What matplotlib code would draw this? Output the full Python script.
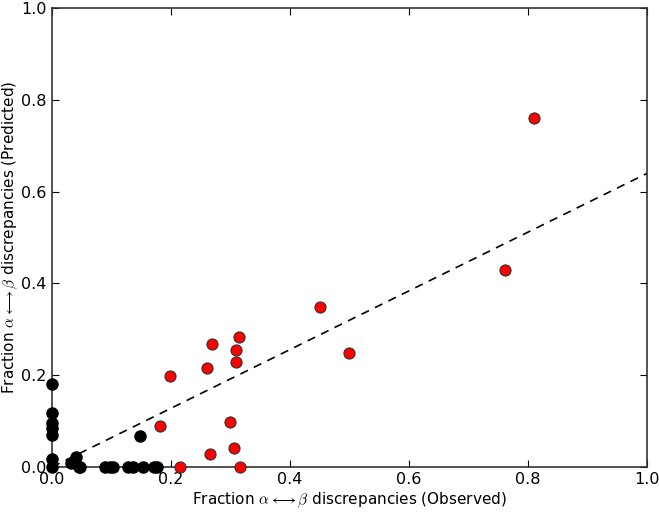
import matplotlib.pyplot as plt
import numpy as np

plt.rcParams["mathtext.fontset"] = "cm"

# fraction of discrepancies (observed, predicted)
red_obs = [0.81, 0.761, 0.499, 0.450, 0.314, 0.269, 0.309, 0.309, 0.260,
           0.199, 0.182, 0.299, 0.305, 0.266, 0.215, 0.315]
red_pred = [0.760, 0.429, 0.248, 0.349, 0.284, 0.267, 0.255, 0.228, 0.216,
            0.198, 0.089, 0.097, 0.041, 0.029, 0.0, 0.0]

black_obs = [0.0, 0.0, 0.0, 0.0, 0.0, 0.0, 0.0, 0.031, 0.041, 0.045, 0.047,
             0.089, 0.097, 0.103, 0.128, 0.136, 0.147, 0.152, 0.172, 0.176]
black_pred = [0.18, 0.117, 0.095, 0.084, 0.070, 0.017, 0.0, 0.008, 0.022,
              0.0, 0.0, 0.0, 0.0, 0.0, 0.0, 0.0, 0.067, 0.0, 0.0, 0.0]

slope = 0.64  # fitted line

fig = plt.figure(figsize=(6.59, 5.12), dpi=100)
ax = fig.add_axes([0.079, 0.088, 0.903, 0.896])

xs = np.array([0.0, 1.0])
ax.plot(xs, slope * xs, color="black", lw=1.2, dashes=(5, 4), zorder=1)
ax.plot(black_obs, black_pred, "o", color="black", mec="black", ms=8,
        clip_on=False, zorder=3)
ax.plot(red_obs, red_pred, "o", color="red", mec="#333333", mew=0.8, ms=8,
        clip_on=False, zorder=3)

ax.set_xlim(0, 1)
ax.set_ylim(0, 1)
ax.set_xticks(np.arange(0, 1.01, 0.2))
ax.set_yticks(np.arange(0, 1.01, 0.2))
ax.tick_params(direction="in", top=True, right=True, length=5, labelsize=11.5,
               pad=4)
for s in ax.spines.values():
    s.set_linewidth(1.2)
    s.set_color("#333333")

ax.set_xlabel(r"Fraction $\alpha \longleftrightarrow \beta$ discrepancies (Observed)",
              fontsize=11, labelpad=2)
ax.set_ylabel(r"Fraction $\alpha \longleftrightarrow \beta$ discrepancies (Predicted)",
              fontsize=11, labelpad=1)

fig.savefig("out.png", dpi=100)
